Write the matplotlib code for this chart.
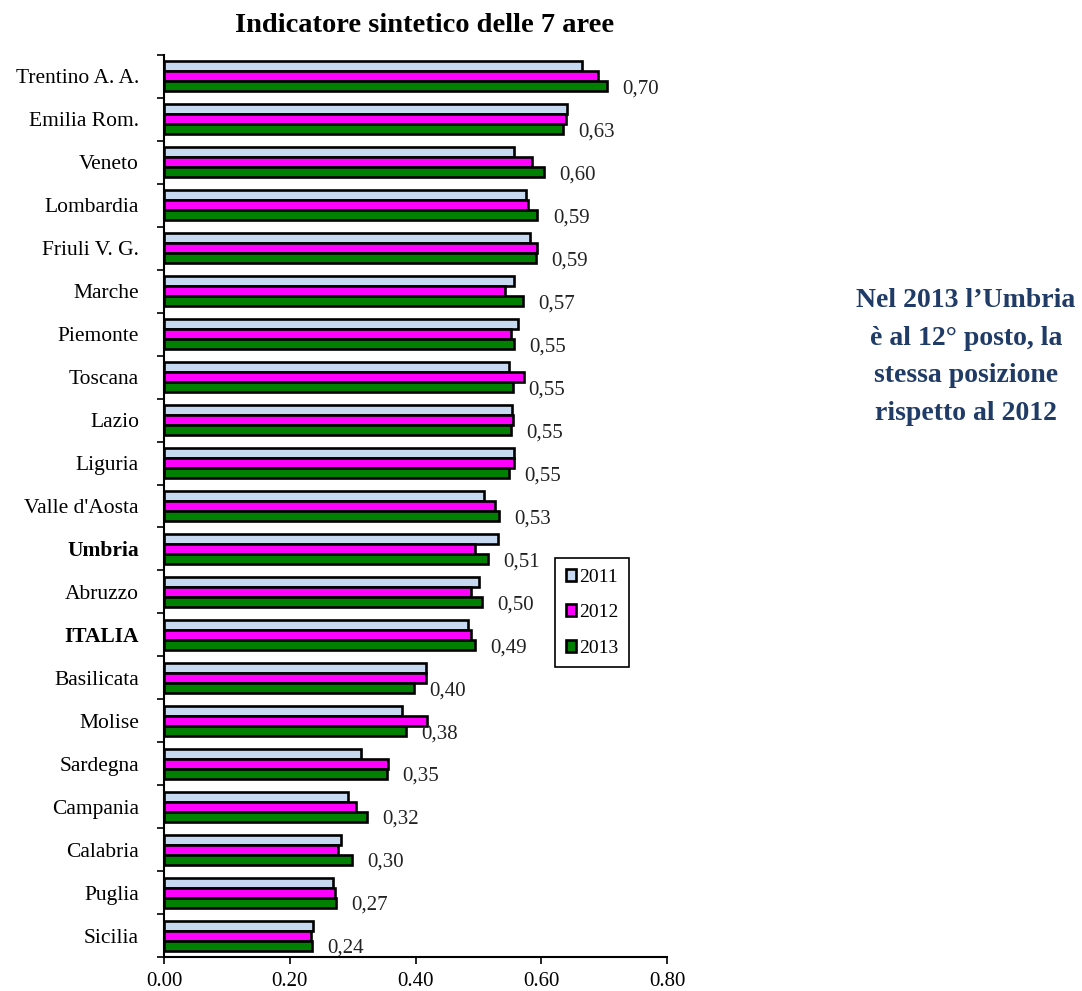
import numpy as np
import matplotlib
matplotlib.use('Agg')
import matplotlib.pyplot as plt
from matplotlib.ticker import FormatStrFormatter

plt.rcParams['font.family'] = ['Liberation Serif', 'DejaVu Serif']

# Data
regions = ['Trentino A. A.', 'Emilia Rom.', 'Veneto', 'Lombardia', 'Friuli V. G.',
           'Marche', 'Piemonte', 'Toscana', 'Lazio', 'Liguria', "Valle d'Aosta",
           'Umbria', 'Abruzzo', 'ITALIA', 'Basilicata', 'Molise', 'Sardegna',
           'Campania', 'Calabria', 'Puglia', 'Sicilia']
v2011 = [0.665, 0.641, 0.557, 0.575, 0.582, 0.556, 0.563, 0.549, 0.553, 0.557, 0.509,
         0.531, 0.501, 0.484, 0.417, 0.378, 0.313, 0.293, 0.282, 0.269, 0.237]
v2012 = [0.690, 0.640, 0.586, 0.579, 0.593, 0.543, 0.552, 0.573, 0.555, 0.556, 0.527,
         0.495, 0.488, 0.489, 0.416, 0.419, 0.356, 0.305, 0.277, 0.272, 0.234]
v2013 = [0.705, 0.635, 0.605, 0.594, 0.592, 0.571, 0.556, 0.555, 0.552, 0.548, 0.533,
         0.515, 0.506, 0.495, 0.398, 0.385, 0.355, 0.323, 0.299, 0.274, 0.236]
labels2013 = ['0,70', '0,63', '0,60', '0,59', '0,59', '0,57', '0,55', '0,55', '0,55', '0,55', '0,53',
              '0,51', '0,50', '0,49', '0,40', '0,38', '0,35', '0,32', '0,30', '0,27', '0,24']
series = ['2011', '2012', '2013']
colors = ['#C6D9F0', '#FF00FF', '#008000']
bold_rows = ['Umbria', 'ITALIA']

fig = plt.figure(figsize=(10.82, 9.91), dpi=100)
ax = fig.add_axes([164 / 1082, 1 - 957 / 991, 503 / 1082, 902 / 991])

y = np.arange(len(regions))
h = 0.233
for i, (vals, col, name) in enumerate(zip([v2011, v2012, v2013], colors, series)):
    ax.barh(y + (i - 1) * h, vals, height=h, color=col, edgecolor='black',
            linewidth=1.9, label=name)

# value labels next to the 2013 bars
for yi, v, lab in zip(y, v2013, labels2013):
    ax.annotate(lab, (v, yi + h), xytext=(11, -2), textcoords='offset points',
                ha='left', va='center', fontsize=15, color='#222222')

ax.set_xlim(0, 0.8)
ax.set_ylim(len(regions) - 0.5, -0.5)
ax.set_xticks([0, 0.2, 0.4, 0.6, 0.8])
ax.xaxis.set_major_formatter(FormatStrFormatter('%.2f'))
ax.tick_params(axis='x', labelsize=15, direction='out', length=5, width=1.2, pad=6)

ax.set_yticks(y)
ax.set_yticklabels(regions, fontsize=15.5)
for t in ax.get_yticklabels():
    if t.get_text() in bold_rows:
        t.set_fontweight('bold')
ax.tick_params(axis='y', which='major', length=0, pad=18)
ax.set_yticks(np.arange(-0.5, len(regions), 1.0), minor=True)
ax.tick_params(axis='y', which='minor', length=5, width=1.2, direction='out')

for s in ['top', 'right']:
    ax.spines[s].set_visible(False)
for s in ['left', 'bottom']:
    ax.spines[s].set_linewidth(1.5)

fig.text(425 / 1082, 1 - 26 / 991, 'Indicatore sintetico delle 7 aree',
         ha='center', va='center', fontsize=20.5, fontweight='bold')

leg = fig.legend(loc='upper left', bbox_to_anchor=(555 / 1082, 1 - 558 / 991),
                 borderaxespad=0, fontsize=14, handlelength=0.55, handleheight=0.55,
                 handletextpad=0.15, labelspacing=0.95, borderpad=0.55,
                 fancybox=False, framealpha=1, edgecolor='black')
leg.get_frame().set_linewidth(1.2)

fig.text(966 / 1082, 1 - 357 / 991,
         'Nel 2013 l\u2019Umbria\n\u00e8 al 12\u00b0 posto, la\nstessa posizione\nrispetto al 2012',
         ha='center', va='center', fontsize=20, fontweight='bold', color='#1F3B66',
         linespacing=1.65)

fig.savefig('out.png', dpi=100)
